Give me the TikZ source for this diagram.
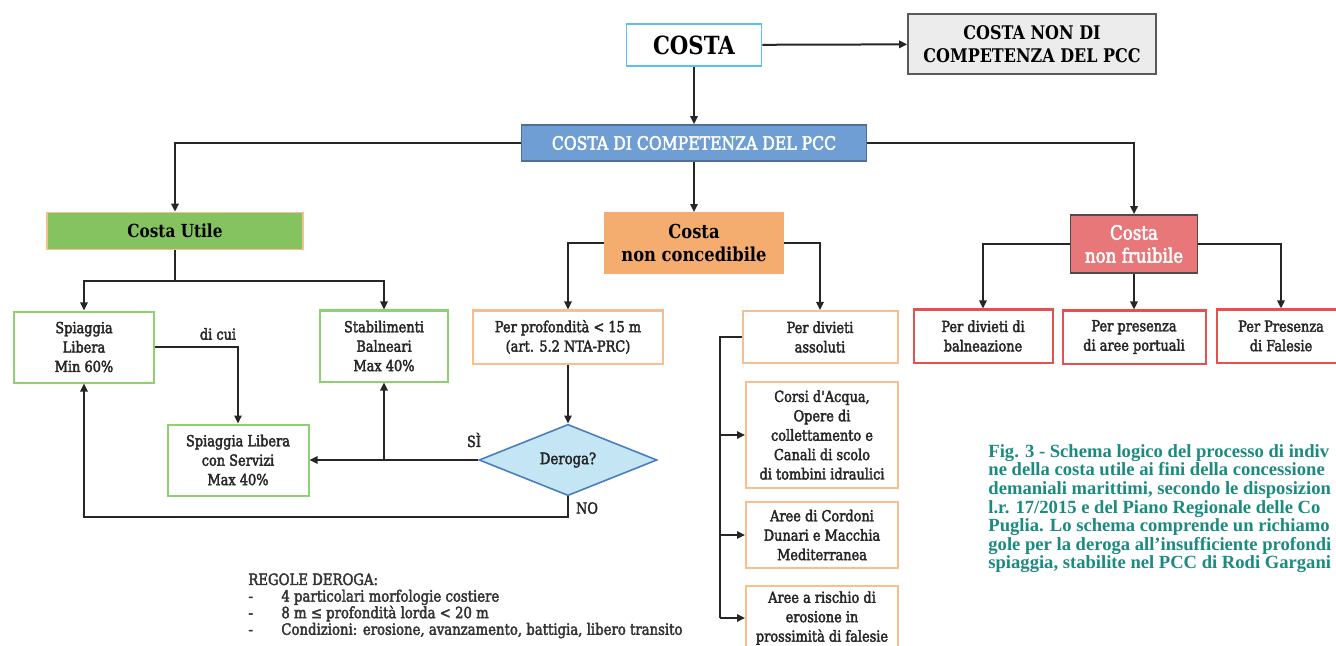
\documentclass[tikz,border=0pt]{standalone}
\usepackage{fontspec}
\setmainfont{DejaVu Serif}[FakeStretch=0.85]
\newfontfamily\bodyfont{DejaVu Serif}[FakeStretch=0.85, FakeBold=2.5]
\newfontfamily\capfont{Liberation Serif}
\usepackage{xcolor}
\usetikzlibrary{positioning,shapes.geometric,arrows.meta}

\definecolor{costablue}{HTML}{5BC0EB}
\definecolor{compblue}{HTML}{6E9ED3}
\definecolor{compborder}{HTML}{4E6F96}
\definecolor{utilegreen}{HTML}{84C35F}
\definecolor{concorange}{HTML}{F5AD6F}
\definecolor{fruired}{HTML}{E8777A}
\definecolor{boxgreen}{HTML}{8FD16E}
\definecolor{boxorange}{HTML}{F8BF8E}
\definecolor{boxred}{HTML}{E5514E}
\definecolor{derogafill}{HTML}{C4E5F4}
\definecolor{derogaline}{HTML}{4A7FBF}
\definecolor{capteal}{HTML}{1B8A80}

\tikzset{
  line/.style={draw=black!85, line width=1pt},
  arr/.style={line, -{Triangle[length=4pt,width=3.6pt]}},
  box/.style={draw, align=center, inner sep=1pt, text=black!85,
    font=\bodyfont\fontsize{7.6}{9.7}\selectfont},
  greenbox/.style={box, draw=boxgreen, line width=1pt},
  orangebox/.style={box, draw=boxorange, line width=1pt},
  redbox/.style={box, draw=boxred, line width=1pt},
  lbl/.style={text=black!85, font=\bodyfont\fontsize{7.6}{9}\selectfont}
}

\begin{document}
\begin{tikzpicture}[x=0.5pt,y=-0.5pt]
  \useasboundingbox (0,0) rectangle (1336,646);

  \node[draw=costablue, line width=0.8pt, minimum width=67.5pt, minimum height=21pt, font=\bfseries\fontsize{12.5}{14}\selectfont] (Co) at (694,45) {COSTA};
  \node[draw=gray!70!black, fill=gray!15, line width=0.8pt, minimum width=124pt, minimum height=30pt, align=center, font=\bfseries\fontsize{9.4}{11.5}\selectfont] (CoNC) at (1032,44) {COSTA NON DI\\COMPETENZA DEL PCC};
  \draw[arr] (Co) -- (CoNC);

  \node[draw=compborder, fill=compblue, text=white, line width=0.8pt, minimum width=172.5pt, minimum height=18pt, font=\bodyfont\fontsize{9.2}{10}\selectfont] (CoDC) at (694,143) {COSTA DI COMPETENZA DEL PCC};
  \draw[arr] (Co) -- (CoDC);

  % %three kinds of coast
  \node[draw=boxorange, fill=utilegreen, line width=0.8pt, minimum width=128pt, minimum height=18.5pt, font=\bfseries\fontsize{9}{10}\selectfont] (CoUt) at (175,231) {Costa Utile};
  \node[draw=concorange, fill=concorange, minimum width=89.5pt, minimum height=30.5pt, align=center, font=\bfseries\fontsize{9.6}{11.5}\selectfont] (CoNo) at (694,243) {Costa\\non concedibile};
  \node[draw=black!70, fill=fruired, text=white, line width=0.8pt, minimum width=63.5pt, minimum height=29pt, align=center, font=\bodyfont\fontsize{9.8}{11.5}\selectfont] (CoNF) at (1134,244) {Costa\\non fruibile};
  \draw[arr] (CoDC.west) -| (CoUt.north);
  \draw[arr] (CoDC) -- (CoNo);
  \draw[arr] (CoDC.east) -| (CoNF.north);

  % %Costa utile
  \node[greenbox, minimum width=70pt, minimum height=35.5pt] (SpLi) at (84,347) {Spiaggia\\Libera\\Min 60\%};
  \node[greenbox, minimum width=64pt, minimum height=35.5pt] (StBa) at (384,346) {Stabilimenti\\Balneari\\Max 40\%};
  \node[greenbox, minimum width=70.5pt, minimum height=35.5pt] (SpLS) at (238,460) {Spiaggia Libera\\con Servizi\\Max 40\%};
  \coordinate (CoUtJ) at (175,281);
  \draw[line] (CoUt.south) -- (CoUtJ);
  \draw[arr] (CoUtJ) -| (SpLi.north);
  \draw[arr] (CoUtJ) -| (StBa.north);
  \draw[arr] (SpLi.east) -| (SpLS.north);
  \node[lbl] (DiCu) at (218,334) {di cui};

  % %Costa non concedibile
  \node[orangebox, minimum width=95pt, minimum height=26.5pt] (PePr) at (568,337) {Per profondità < 15 m\\(art. 5.2 NTA-PRC)};
  \node[orangebox, minimum width=77.5pt, minimum height=26pt] (PeDA) at (820,337) {Per divieti\\assoluti};
  \draw[arr] (CoNo.west) -| (PePr.north);
  \draw[arr] (CoNo.east) -| (PeDA.north);

  \node[diamond, draw=derogaline, fill=derogafill, line width=0.8pt, inner sep=0pt, minimum width=89pt, minimum height=32.5pt, text=black!85, font=\bodyfont\fontsize{7.8}{9}\selectfont] (De) at (568,460) {Deroga?};
  \draw[arr] (PePr) -- (De);
  \draw[arr] (De.west) -- (SpLS.east);
  \coordinate (SiJ) at (384,460);
  \draw[arr] (SiJ) -- (StBa.south);
  \node[lbl] (Si) at (474,440) {SÌ};
  \coordinate (NoJ) at (84,517);
  \draw[arr] (De.south) |- (NoJ) -- (SpLi.south);
  \node[lbl] (No) at (587,508) {NO};

  \node[orangebox, minimum width=76pt, minimum height=53pt] (CoAc) at (822,435) {Corsi d'Acqua,\\Opere di\\collettamento e\\Canali di scolo\\di tombini idraulici};
  \node[orangebox, minimum width=76pt, minimum height=33pt] (ArCo) at (822,535) {Aree di Cordoni\\Dunari e Macchia\\Mediterranea};
  \node[orangebox, minimum width=76pt, minimum height=32pt] (ArRi) at (822,618) {Aree a rischio di\\erosione in\\prossimità di falesie};
  \coordinate (PeDAJ) at (720,337);
  \draw[line] (PeDA.west) -- (PeDAJ) -- (PeDAJ |- ArRi.west);
  \foreach \n in {CoAc,ArCo,ArRi}
    \draw[arr] (PeDAJ |- \n.west) -- (\n.west);

  % %Costa non fruibile
  \node[redbox, minimum width=69.5pt, minimum height=26.5pt] (PeDB) at (983,336) {Per divieti di\\balneazione};
  \node[redbox, minimum width=71.5pt, minimum height=26.5pt] (PePA) at (1134,337) {Per presenza\\di aree portuali};
  \node[redbox, minimum width=64pt, minimum height=26.5pt] (PePF) at (1281,336) {Per Presenza\\di Falesie};
  \draw[arr] (CoNF.west) -| (PeDB.north);
  \draw[arr] (CoNF) -- (PePA);
  \draw[arr] (CoNF.east) -| (PePF.north);

  % %rules and caption
  \node[anchor=north west, align=left, inner sep=0pt, text=black!80, font=\bodyfont\fontsize{7.8}{8.3}\selectfont] (ReDe) at (248,573) {REGOLE DEROGA:\\
    \makebox[16.5pt][l]{-}4 particolari morfologie costiere\\
    \makebox[16.5pt][l]{-}8 m ≤ profondità lorda < 20 m\\
    \makebox[16.5pt][l]{-}Condizioni: erosione, avanzamento, battigia, libero transito};
  \node[anchor=north west, align=left, inner sep=0pt, text=capteal, font=\capfont\bfseries\fontsize{9.3}{9.3}\selectfont] (Cap) at (988,444) {Fig. 3 - Schema logico del processo di indiv\\
    ne della costa utile ai fini della concessione\\
    demaniali marittimi, secondo le disposizion\\
    l.r. 17/2015 e del Piano Regionale delle Co\\
    Puglia. Lo schema comprende un richiamo\\
    gole per la deroga all’insufficiente profondi\\
    spiaggia, stabilite nel PCC di Rodi Gargani};

\end{tikzpicture}
\end{document}
